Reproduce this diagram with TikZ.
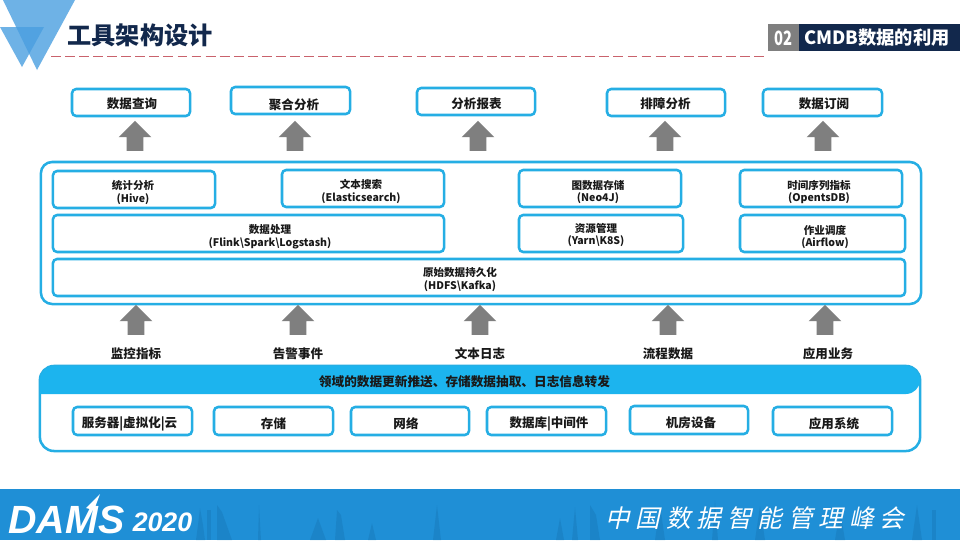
\documentclass[tikz,border=0pt]{standalone}
\usepackage{fontspec}
\usetikzlibrary{shapes.arrows}
\setmainfont{Noto Sans CJK SC}
\newfontfamily\footfont[LetterSpace=24,FakeSlant=0.22]{Noto Sans CJK SC}
\newfontfamily\logofont{Liberation Sans}
\definecolor{boxblue}{HTML}{25AEE4}
\definecolor{headblue}{HTML}{1CB4EE}
\definecolor{footblue}{HTML}{1F8FD6}
\definecolor{skyblue}{HTML}{1878B8}
\definecolor{navy}{HTML}{12284C}
\definecolor{dashred}{HTML}{C9626C}
\definecolor{arrowgray}{HTML}{7F7F7F}
\definecolor{tipblue}{HTML}{4A9FE0}
\tikzset{
  boxsize/.style 2 args={minimum width=#1*0.7113pt, minimum height=#2*0.7113pt},
  toolbox/.style={draw=boxblue, line width=1.8pt, rounded corners=3pt, fill=white, inner sep=0pt},
  boxtext/.style={font=\bfseries\fontsize{8.9pt}{10pt}\selectfont, text=black!90, inner sep=0pt, align=center},
  smalltext/.style={font=\bfseries\fontsize{7.5pt}{9pt}\selectfont, text=black!90, inner sep=0pt, align=center},
  panel/.style={draw=boxblue, line width=1.8pt, rounded corners=8pt, inner sep=0pt},
  uparrow/.style={single arrow, fill=arrowgray, shape border rotate=90, inner sep=5.7pt, single arrow head extend=5.7pt, single arrow head indent=0pt, single arrow tip angle=90, minimum width=22.8pt, minimum height=21.3pt},
  skyline/.style={fill=skyblue, opacity=0.45}
}
\begin{document}
\begin{tikzpicture}[x=0.025cm,y=-0.025cm]
\useasboundingbox (0,0) rectangle (960,540);
\fill[white] (0,0) rectangle (960,540);

% title corner
\fill[tipblue, opacity=0.8] (3,0) -- (75,0) -- (37,70) -- cycle;
\fill[tipblue, opacity=0.8] (0,27) -- (44,27) -- (22,67) -- cycle;
\node[font=\bfseries\fontsize{17.2pt}{18pt}\selectfont, text=navy, inner sep=0pt] (title) at (140,35) {工具架构设计};
\draw[dashred, line width=1.3pt, dash pattern=on 7pt off 3pt] (51,56.5) -- (768,56.5);

\fill[arrowgray] (768,24) rectangle (799,51);
\fill[navy] (799,24) rectangle (960,51);
\node[font=\bfseries\fontsize{14pt}{15pt}\selectfont, text=white, inner sep=0pt, xscale=0.75] (chapter) at (783,38) {02};
\node[font=\bfseries\fontsize{13pt}{14pt}\selectfont, text=white, inner sep=0pt] (chaptername) at (877,38) {CMDB数据的利用};

% consumers
\node[toolbox, boxsize={118}{27}] (query) at (131,102.5) {};
\node[toolbox, boxsize={119}{27}] (aggregate) at (290.5,100.5) {};
\node[toolbox, boxsize={118}{27}] (report) at (476,101.5) {};
\node[toolbox, boxsize={118}{27}] (trouble) at (666,102.5) {};
\node[toolbox, boxsize={119}{27}] (subscribe) at (822.5,102.5) {};
\node[boxtext] (querytext) at (132,103.5) {数据查询};
\node[boxtext] (aggregatetext) at (294,104.5) {聚合分析};
\node[boxtext] (reporttext) at (476.5,103.5) {分析报表};
\node[boxtext] (troubletext) at (665.5,103.5) {排障分析};
\node[boxtext] (subscribetext) at (824,103.5) {数据订阅};

\node[uparrow] (uptop1) at (135,140) {};
\node[uparrow] (uptop2) at (295,140) {};
\node[uparrow] (uptop3) at (478,140) {};
\node[uparrow] (uptop4) at (665,140) {};
\node[uparrow] (uptop5) at (823,140) {};

% storage and processing
\node[panel, boxsize={880}{142}] (platform) at (481,233) {};
\node[toolbox, boxsize={162}{37}] (hive) at (134,189.5) {};
\node[toolbox, boxsize={162}{37}] (elastic) at (363,188.5) {};
\node[toolbox, boxsize={162}{37}] (neo) at (600,188.5) {};
\node[toolbox, boxsize={162}{37}] (opents) at (821,188.5) {};
\node[toolbox, boxsize={391}{37}] (flink) at (248.5,233.5) {};
\node[toolbox, boxsize={164}{37}] (yarn) at (601,233.5) {};
\node[toolbox, boxsize={165}{37}] (airflow) at (822.5,233.5) {};
\node[toolbox, boxsize={852}{37}] (hdfs) at (479,277.5) {};
\node[smalltext] (hivetext) at (133,192.5) {统计分析\\(Hive)};
\node[smalltext] (elastictext) at (361,191.5) {文本搜索\\(Elasticsearch)};
\node[smalltext] (neotext) at (598,192) {图数据存储\\(Neo4J)};
\node[smalltext] (opentstext) at (819,192) {时间序列指标\\(OpentsDB)};
\node[smalltext] (flinktext) at (270,236.5) {数据处理\\(Flink\textbackslash Spark\textbackslash Logstash)};
\node[smalltext] (yarntext) at (596,235) {资源管理\\(Yarn\textbackslash K8S)};
\node[smalltext] (airflowtext) at (825,237) {作业调度\\(Airflow)};
\node[smalltext] (hdfstext) at (460,279.5) {原始数据持久化\\(HDFS\textbackslash Kafka)};

\node[uparrow] (upmid1) at (136,324) {};
\node[uparrow] (upmid2) at (298,324) {};
\node[uparrow] (upmid3) at (480,324) {};
\node[uparrow] (upmid4) at (668,324) {};
\node[uparrow] (upmid5) at (825,324) {};

\node[boxtext] (metric) at (136,354) {监控指标};
\node[boxtext] (alarm) at (298,354) {告警事件};
\node[boxtext] (textlog) at (480,354) {文本日志};
\node[boxtext] (flow) at (668,354) {流程数据};
\node[boxtext] (business) at (828,354) {应用业务};

% domains
\node[panel, boxsize={880}{85}, rounded corners=10pt] (domains) at (480,408.5) {};
\fill[headblue, rounded corners=10pt] (40,394) -- (40,366) -- (920,366) -- (920,394) [sharp corners] -- cycle;
\node[boxtext, font=\bfseries\fontsize{9pt}{10pt}\selectfont] (pushing) at (464.5,382) {领域的数据更新推送、存储数据抽取、日志信息转发};
\node[toolbox, boxsize={119}{28}] (server) at (132.5,421) {};
\node[toolbox, boxsize={119}{28}] (storage) at (273.5,421) {};
\node[toolbox, boxsize={118}{28}] (network) at (410,421) {};
\node[toolbox, boxsize={119}{28}] (database) at (546.5,421) {};
\node[toolbox, boxsize={118}{28}] (room) at (689,420) {};
\node[toolbox, boxsize={119}{28}] (appsys) at (832.5,421) {};
\node[boxtext] (servertext) at (129.5,424) {服务器|虚拟化|云};
\node[boxtext] (storagetext) at (273.5,424) {存储};
\node[boxtext] (networktext) at (406,424) {网络};
\node[boxtext] (databasetext) at (549,424) {数据库|中间件};
\node[boxtext] (roomtext) at (691,423) {机房设备};
\node[boxtext] (appsystext) at (834,424) {应用系统};

% footer
\fill[footblue] (0,489) rectangle (960,540);
\fill[skyline] (196,540) -- (198,525) -- (200,508) -- (203,525) -- (205,540) -- cycle;
\fill[skyline] (207,510) rectangle (211,540);
\fill[skyline] (217,540) -- (217,505) -- (222,512) -- (232,540) -- cycle;
\fill[skyline] (258,540) -- (259,505) -- (261,540) -- cycle;
\fill[skyline] (310,540) -- (318,518) -- (326,540) -- cycle;
\fill[skyline] (335,540) -- (337,510) -- (341,515) -- (345,540) -- cycle;
\fill[skyline] (368,540) -- (372,523) -- (376,540) -- cycle;
\fill[skyline] (433,540) -- (437,505) -- (441,540) -- cycle;
\fill[skyline] (556,540) -- (560,518) -- (564,540) -- cycle;
\fill[skyline] (572,540) -- (575,507) -- (578,540) -- cycle;
\fill[skyline] (590,540) -- (590,505) -- (596,515) -- (600,540) -- cycle;
\fill[skyline] (655,540) -- (660,505) -- (665,540) -- cycle;
\fill[skyline] (712,540) -- (715,500) -- (718,540) -- cycle;
\fill[skyline] (755,540) -- (760,506) -- (765,540) -- cycle;
\fill[skyline] (835,540) -- (840,510) -- (845,540) -- cycle;
\fill[skyline] (912,540) -- (917,505) -- (922,540) -- cycle;
\fill[skyline] (932,510) rectangle (936,540);
\node[font=\logofont\bfseries\itshape\fontsize{28pt}{29pt}\selectfont, text=white, inner sep=0pt] (dams) at (66.5,519.5) {DAMS};
\fill[white] (86,508) -- (100,494) -- (94,510) -- cycle;
\node[font=\logofont\bfseries\itshape\fontsize{19pt}{20pt}\selectfont, text=white, inner sep=0pt] (year) at (162.5,522) {2020};
\node[font=\footfont\fontsize{17.5pt}{18pt}\selectfont, text=white, inner sep=0pt] (summit) at (755,518) {中国数据智能管理峰会};
\end{tikzpicture}
\end{document}
